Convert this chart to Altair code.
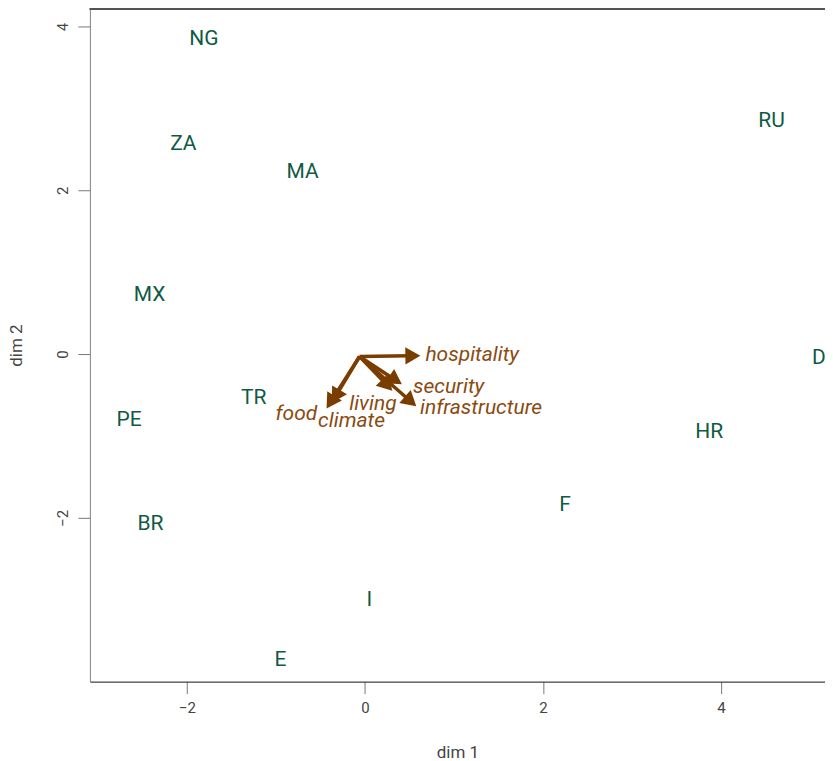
import altair as alt
import pandas as pd
import numpy as np

# Country scores
countries = ["NG", "ZA", "MA", "MX", "RU", "D", "TR", "PE", "HR", "F", "BR", "I", "E"]
country_x = [-1.81, -2.04, -0.70, -2.42, 4.57, 5.10, -1.25, -2.65, 3.87, 2.25, -2.41, 0.05, -0.95]
country_y = [3.85, 2.56, 2.22, 0.72, 2.85, -0.05, -0.54, -0.80, -0.95, -1.84, -2.07, -3.00, -3.74]

# Attribute arrows
attributes = ["hospitality", "security", "living", "infrastructure", "food", "climate"]
origin_x = -0.06
origin_y = -0.03
tip_x = [0.64, 0.43, 0.32, 0.59, -0.44, -0.38]
tip_y = [-0.02, -0.38, -0.46, -0.65, -0.68, -0.61]
label_x = [0.68, 0.54, 0.09, 0.62, -0.77, -0.15]
label_y = [-0.01, -0.40, -0.61, -0.66, -0.73, -0.82]
label_anchor = ["left", "left", "center", "left", "center", "center"]

x_ticks = [-2, 0, 2, 4]
y_ticks = [-2, 0, 2, 4]

X_DOMAIN = [-3.09, 5.17]
Y_DOMAIN = [-4.0, 4.22]
W = 736
H = 674

FONT = "Roboto, 'Liberation Sans', sans-serif"
GREEN = "#0f5a45"
BROWN = "#7a3d00"
BROWN_TXT = "#8a4a10"

cdf = pd.DataFrame({"name": countries, "x": country_x, "y": country_y})

px_per_x = W / (X_DOMAIN[1] - X_DOMAIN[0])
px_per_y = H / (Y_DOMAIN[1] - Y_DOMAIN[0])
adf = pd.DataFrame({"name": attributes, "tx": tip_x, "ty": tip_y,
                    "lx": label_x, "ly": label_y, "anchor": label_anchor})
adf["ox"] = origin_x
adf["oy"] = origin_y
dxp = (adf["tx"] - origin_x) * px_per_x
dyp = (adf["ty"] - origin_y) * px_per_y
L = np.sqrt(dxp ** 2 + dyp ** 2)
head = 9.0
adf["hx"] = adf["tx"] - (dxp / L * head) / px_per_x
adf["hy"] = adf["ty"] - (dyp / L * head) / px_per_y
adf["ex"] = adf["tx"] - (dxp / L * head * 1.4) / px_per_x
adf["ey"] = adf["ty"] - (dyp / L * head * 1.4) / px_per_y
adf["angle"] = (np.degrees(np.arctan2(-dyp, dxp)) + 360) % 360

xs = alt.Scale(domain=X_DOMAIN, nice=False, zero=False)
ys = alt.Scale(domain=Y_DOMAIN, nice=False, zero=False)

x_axis = alt.Axis(values=x_ticks, format="d", grid=False, title="dim 1", tickSize=12,
                  tickColor="#777", domainColor="#222", labelFont=FONT,
                  labelFontSize=15, labelColor="#444", labelPadding=7,
                  titleFont=FONT, titleFontSize=17, titleFontWeight="normal",
                  titleColor="#444", titleY=71, titleBaseline="middle")
y_axis = alt.Axis(values=y_ticks, format="d", grid=False, title="dim 2", tickSize=12,
                  tickColor="#777", domainColor="#888", labelFont=FONT,
                  labelFontSize=15, labelColor="#444", labelAngle=270,
                  labelAlign="center", labelBaseline="bottom", labelPadding=7,
                  titleFont=FONT, titleFontSize=17, titleFontWeight="normal",
                  titleColor="#444", titleX=-73, titleBaseline="middle")

countries_layer = alt.Chart(cdf).mark_text(
    font=FONT, fontSize=21, color=GREEN, align="center", baseline="middle"
).encode(
    x=alt.X("x:Q", scale=xs, axis=x_axis),
    y=alt.Y("y:Q", scale=ys, axis=y_axis),
    text="name:N",
)

top_frame = alt.Chart(cdf).mark_rule(color="#555", strokeWidth=1).encode(
    x=alt.value(0), x2=alt.value(W), y=alt.value(0.5)
)

rules = alt.Chart(adf).mark_rule(color=BROWN, strokeWidth=3.5).encode(
    x=alt.X("ox:Q", scale=xs, axis=x_axis), y=alt.Y("oy:Q", scale=ys, axis=y_axis),
    x2="ex:Q", y2="ey:Q",
)

heads = alt.Chart(adf).mark_point(shape="triangle-right", filled=True, opacity=1,
                                  color=BROWN, size=300).encode(
    x=alt.X("hx:Q", scale=xs, axis=x_axis), y=alt.Y("hy:Q", scale=ys, axis=y_axis),
    angle=alt.Angle("angle:Q", scale=None),
)

lab_left = alt.Chart(adf).transform_filter(alt.datum.anchor == "left").mark_text(
    font=FONT, fontSize=21, fontStyle="italic", color=BROWN_TXT, align="left", baseline="middle"
).encode(x=alt.X("lx:Q", scale=xs, axis=x_axis), y=alt.Y("ly:Q", scale=ys, axis=y_axis),
         text="name:N")

lab_center = alt.Chart(adf).transform_filter(alt.datum.anchor == "center").mark_text(
    font=FONT, fontSize=21, fontStyle="italic", color=BROWN_TXT, align="center", baseline="middle"
).encode(x=alt.X("lx:Q", scale=xs, axis=x_axis), y=alt.Y("ly:Q", scale=ys, axis=y_axis),
         text="name:N")

chart = alt.layer(countries_layer, top_frame, rules, heads, lab_left, lab_center).properties(
    width=W, height=H,
    autosize=alt.AutoSizeParams(type="none"),
    padding={"left": 82, "top": 0, "right": 0, "bottom": 79},
).configure_view(stroke=None).configure(background="white")

chart.save("out.html", embed_options={"renderer": "svg", "actions": False})
